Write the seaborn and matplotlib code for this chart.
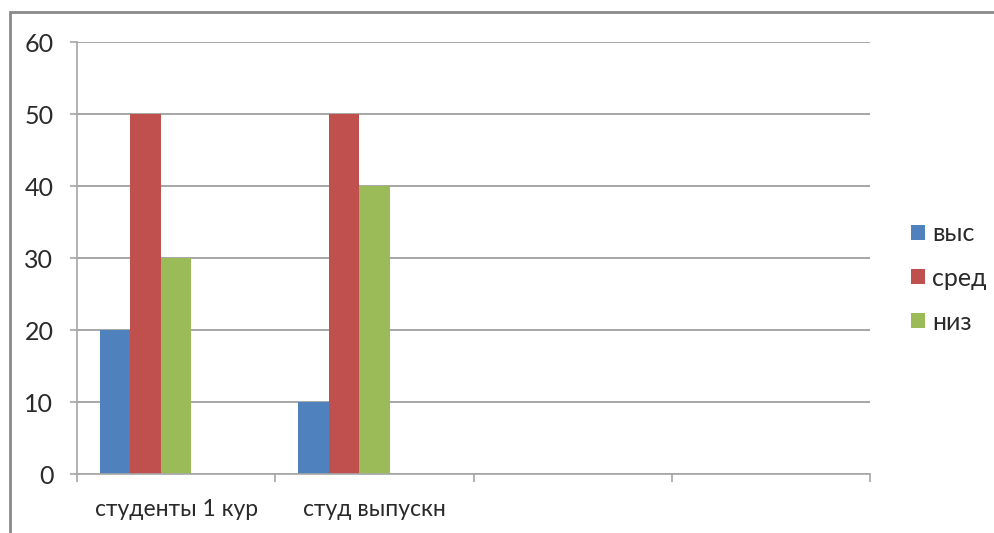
import matplotlib
matplotlib.use("Agg")
import matplotlib.pyplot as plt
from matplotlib.patches import Patch, Rectangle
from matplotlib.ticker import FixedLocator
import seaborn as sns
import pandas as pd

# Survey results by group
categories = ["студенты 1 кур", "студ выпускн", " ", "  "]
series = ["выс", "сред", "низ"]
vys = [20, 10]
sred = [50, 50]
niz = [30, 40]

colors = {"выс": "#4F81BD", "сред": "#C0504D", "низ": "#9BBB59"}
# two empty series slots keep the Excel-like bar spacing
spare = ["_s4", "_s5"]

rows = []
for cat, a, b, c in zip(categories, vys, sred, niz):
    rows += [(cat, "выс", a), (cat, "сред", b), (cat, "низ", c)]
df = pd.DataFrame(rows, columns=["группа", "уровень", "значение"])

sns.set_theme(style="white")
plt.rcParams["font.family"] = ["Lato", "DejaVu Sans"]

fig = plt.figure(figsize=(9.94, 5.33), dpi=100)
ax = fig.add_axes([77 / 994, 1 - 474 / 533, (870 - 77) / 994, (474 - 42) / 533])

palette = dict(colors)
palette.update({s: "#ffffff" for s in spare})
sns.barplot(data=df, x="группа", y="значение", hue="уровень",
            order=categories, hue_order=series + spare, palette=palette,
            width=0.77, gap=0, saturation=1, linewidth=0,
            legend=False, ax=ax, errorbar=None)

grid_c = "#a6a6a6"
text_c = "#2a2a2a"
ax.set_ylim(0, 60)
ax.set_xlim(-0.5, len(categories) - 0.5)
ax.set_yticks(range(0, 61, 10))
ax.yaxis.grid(True, color=grid_c, linewidth=1.4)
ax.set_axisbelow(True)
ax.set_xlabel("")
ax.set_ylabel("")

for side in ("top", "right"):
    ax.spines[side].set_visible(False)
for side in ("left", "bottom"):
    ax.spines[side].set_color(grid_c)
    ax.spines[side].set_linewidth(1.2)

ax.tick_params(axis="y", which="major", length=5, width=1.2, color=grid_c,
               direction="out", left=True, pad=12, labelsize=18, labelcolor=text_c)
ax.tick_params(axis="x", which="major", length=0, pad=18, labelsize=16.5, labelcolor=text_c)
ax.xaxis.set_minor_locator(FixedLocator([i - 0.5 for i in range(len(categories) + 1)]))
ax.tick_params(axis="x", which="minor", length=6, width=1.2, color=grid_c,
               direction="out", bottom=True)

handles = [Patch(facecolor=colors[s], edgecolor="none") for s in series]
fig.legend(handles, series, loc="center left", bbox_to_anchor=(911 / 994, 1 - 278 / 533),
           frameon=False, fontsize=18, handlelength=0.55, handleheight=0.55,
           handletextpad=0.3, labelspacing=0.85, borderpad=0, borderaxespad=0,
           labelcolor=text_c)

# outer chart frame
fig.add_artist(Rectangle((10 / 994, -0.2), 1.2, 1 - 12 / 533 + 0.2,
                         transform=fig.transFigure, fill=False,
                         edgecolor="#8a8a8a", linewidth=2))

fig.savefig("out.png", dpi=100)
